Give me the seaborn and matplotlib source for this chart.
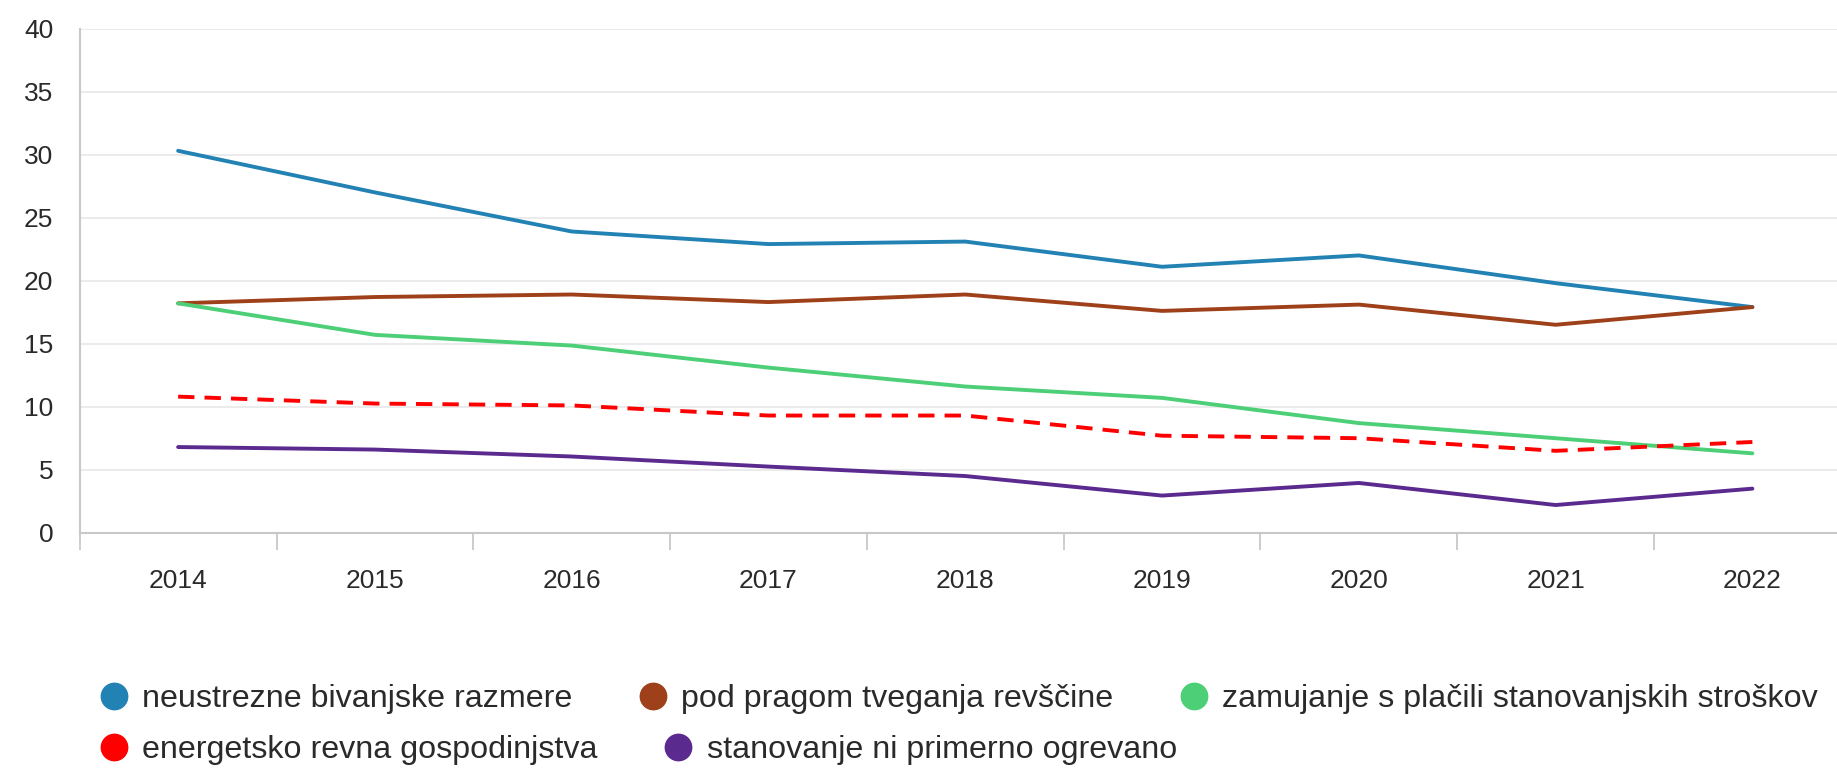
import pandas as pd
import seaborn as sns
import matplotlib.pyplot as plt
from matplotlib.lines import Line2D
from matplotlib.ticker import FixedLocator

years = [2014, 2015, 2016, 2017, 2018, 2019, 2020, 2021, 2022]

# values (%)
bivanjske = [30.3, 27.0, 23.9, 22.9, 23.1, 21.1, 22.0, 19.8, 17.9]
revscina = [18.2, 18.7, 18.9, 18.3, 18.9, 17.6, 18.1, 16.5, 17.9]
zamujanje = [18.2, 15.7, 14.85, 13.1, 11.6, 10.7, 8.7, 7.5, 6.3]
energetsko = [10.8, 10.25, 10.1, 9.3, 9.3, 7.7, 7.5, 6.5, 7.2]
ogrevano = [6.8, 6.6, 6.05, 5.25, 4.5, 2.95, 3.95, 2.2, 3.5]

names = ["neustrezne bivanjske razmere",
         "pod pragom tveganja revščine",
         "zamujanje s plačili stanovanjskih stroškov",
         "energetsko revna gospodinjstva",
         "stanovanje ni primerno ogrevano"]
colors = ["#2382b4", "#9e4019", "#4ccf76", "#ff0000", "#5a2a8f"]

rows = []
for name, vals in zip(names, [bivanjske, revscina, zamujanje, energetsko, ogrevano]):
    for y, v in zip(years, vals):
        rows.append({"leto": y, "delez": v, "kazalnik": name})
df = pd.DataFrame(rows)

sns.set_style("white")
plt.rcParams['font.family'] = ['Liberation Sans', 'DejaVu Sans']

fig = plt.figure(figsize=(18.37, 7.71), dpi=100)
ax = fig.add_axes([0.0434, 0.309, 0.9566, 0.654])

palette = dict(zip(names, colors))
dashes = {n: "" for n in names}
dashes["energetsko revna gospodinjstva"] = (4.2, 2.6)

sns.lineplot(data=df, x="leto", y="delez", hue="kazalnik", style="kazalnik",
             palette=palette, dashes=dashes, linewidth=2.8, legend=False, ax=ax)

ax.set_ylim(0, 40)
ax.set_xlim(2013.5, 2022.43)
ax.set_yticks(range(0, 41, 5))
ax.set_xticks(years)
ax.set_xticklabels([str(y) for y in years])
ax.xaxis.set_minor_locator(FixedLocator([y - 0.5 for y in years]))
ax.tick_params(axis='x', which='major', length=0, pad=26, labelsize=19, colors='#2a2a2a')
ax.tick_params(axis='x', which='minor', bottom=True, length=12, width=1.3, color='#c8c8c8')
ax.tick_params(axis='y', length=0, pad=19, labelsize=19, colors='#2a2a2a')
ax.set_xlabel("")
ax.set_ylabel("")

ax.grid(axis='y', color='#e9e9e9', linewidth=1.3)
ax.set_axisbelow(True)
for s in ["top", "right"]:
    ax.spines[s].set_visible(False)
for s in ["left", "bottom"]:
    ax.spines[s].set_color('#c8c8c8')
    ax.spines[s].set_linewidth(1.5)


def handles(idx):
    return [Line2D([], [], linestyle='none', marker='o', markersize=19,
                   markerfacecolor=colors[i], markeredgecolor=colors[i]) for i in idx]


leg1 = fig.legend(handles([0, 1, 2]), names[:3], loc='center left',
                  bbox_to_anchor=(0.055, 0.093), ncol=3, frameon=False,
                  fontsize=23.2, handlelength=0.78, handletextpad=0.5,
                  columnspacing=2.1, borderaxespad=0, borderpad=0)
leg2 = fig.legend(handles([3, 4]), names[3:], loc='center left',
                  bbox_to_anchor=(0.055, 0.027), ncol=2, frameon=False,
                  fontsize=23.2, handlelength=0.78, handletextpad=0.5,
                  columnspacing=2.1, borderaxespad=0, borderpad=0)
for leg in (leg1, leg2):
    for t in leg.get_texts():
        t.set_color('#2a2a2a')

fig.savefig("out.png", dpi=100)
